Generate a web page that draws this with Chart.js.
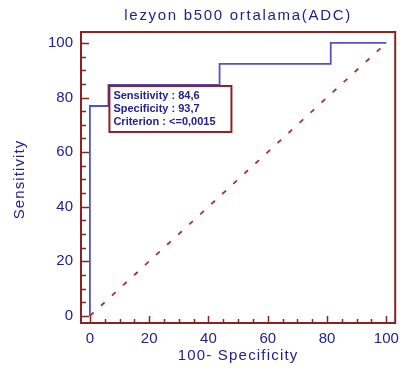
<!DOCTYPE html>
<html>
<head>
<meta charset="utf-8">
<script src="https://cdn.jsdelivr.net/npm/chart.js@4"></script>
<style>
  html, body { margin: 0; padding: 0; background: #fff; }
  canvas { display: block; }
</style>
</head>
<body>
<canvas id="roc" width="406" height="374"></canvas>
<script>
'use strict';
// ROC operating points (100-Specificity, Sensitivity)
const fpr  = [0, 0, 6.25, 43.75, 81.25, 100];
const sens = [0, 76.9, 84.6, 92.3, 100, 100];
const diagX = [0, 100];
const diagY = [0, 100];
const tickValues = [0, 20, 40, 60, 80, 100];
const boxLines = ['Sensitivity : 84,6', 'Specificity : 93,7', 'Criterion : <=0,0015'];
const cutX = 6.25, cutY = 84.6;

const navy = '#22228a';
const darkRed = '#8b2222';
const fontFam = '"Liberation Sans", Arial, sans-serif';

const frame = {
  id: 'frame',
  afterDraw(chart) {
    const ctx = chart.ctx;
    const a = chart.chartArea;
    const xs = chart.scales.x, ys = chart.scales.y;
    ctx.save();
    // plot box
    ctx.strokeStyle = darkRed;
    ctx.lineWidth = 2;
    ctx.strokeRect(a.left, a.top, a.right - a.left, a.bottom - a.top);
    // ticks
    ctx.lineWidth = 1.5;
    ctx.beginPath();
    for (let v = 0; v <= 100; v += 5) {
      const major = v % 20 === 0;
      const px = Math.round(xs.getPixelForValue(v)) + 0.5;
      ctx.moveTo(px, a.bottom);
      ctx.lineTo(px, a.bottom - (major ? 7 : 4));
      const py = Math.round(ys.getPixelForValue(v)) + 0.5;
      ctx.moveTo(a.left, py);
      ctx.lineTo(a.left + (major ? 8 : 5), py);
    }
    ctx.stroke();

    // titles
    ctx.fillStyle = navy;
    ctx.textAlign = 'center';
    ctx.textBaseline = 'middle';
    ctx.font = '15px ' + fontFam;
    ctx.letterSpacing = '1.7px';
    ctx.fillText('lezyon b500 ortalama(ADC)', (a.left + a.right) / 2, 16);
    ctx.letterSpacing = '1.2px';
    ctx.fillText('100- Specificity', (a.left + a.right) / 2, 356);
    ctx.save();
    ctx.translate(20, (a.top + a.bottom) / 2 + 2);
    ctx.rotate(-Math.PI / 2);
    ctx.letterSpacing = '1.1px';
    ctx.fillText('Sensitivity', 0, 0);
    ctx.restore();
    ctx.letterSpacing = '0px';

    // criterion box at the cut-off point
    const bx = xs.getPixelForValue(cutX) + 1;
    const by = ys.getPixelForValue(cutY) + 1;
    const bw = 122, bh = 46;
    ctx.fillStyle = '#fff';
    ctx.fillRect(bx, by, bw, bh);
    ctx.strokeStyle = darkRed;
    ctx.lineWidth = 2;
    ctx.strokeRect(bx, by, bw, bh);
    ctx.fillStyle = navy;
    ctx.textAlign = 'left';
    ctx.font = 'bold 11px ' + fontFam;
    boxLines.forEach((t, i) => ctx.fillText(t, bx + 4, by + 10 + i * 13));
    ctx.restore();
  }
};

new Chart(document.getElementById('roc').getContext('2d'), {
  type: 'line',
  data: {
    datasets: [
      {
        label: 'ROC',
        data: fpr.map((x, i) => ({ x: x, y: sens[i] })),
        borderColor: '#5252c2',
        borderWidth: 1.8,
        stepped: 'before',
        pointRadius: 0,
        fill: false
      },
      {
        label: 'Reference',
        data: diagX.map((x, i) => ({ x: x, y: diagY[i] })),
        borderColor: '#a33333',
        borderWidth: 1.8,
        borderDash: [5, 10],
        pointRadius: 0,
        fill: false
      }
    ]
  },
  options: {
    responsive: false,
    animation: false,
    layout: { padding: { top: 32, right: 6, left: 0, bottom: 0 } },
    plugins: {
      legend: { display: false },
      title: { display: false },
      tooltip: { enabled: false }
    },
    scales: {
      x: {
        type: 'linear',
        min: -3,
        max: 103,
        afterBuildTicks(s) { s.ticks = tickValues.map(v => ({ value: v })); },
        afterFit(s) { s.height = 51; },
        grid: { display: false, drawTicks: false },
        border: { display: false },
        ticks: { color: navy, padding: 7, maxRotation: 0, font: { size: 15, family: fontFam } }
      },
      y: {
        type: 'linear',
        min: -2.6,
        max: 104,
        afterBuildTicks(s) { s.ticks = tickValues.map(v => ({ value: v })); },
        afterFit(s) { s.width = 81; },
        grid: { display: false, drawTicks: false },
        border: { display: false },
        ticks: { color: navy, padding: 8, font: { size: 15, family: fontFam } }
      }
    }
  },
  plugins: [frame]
});
</script>
</body>
</html>
